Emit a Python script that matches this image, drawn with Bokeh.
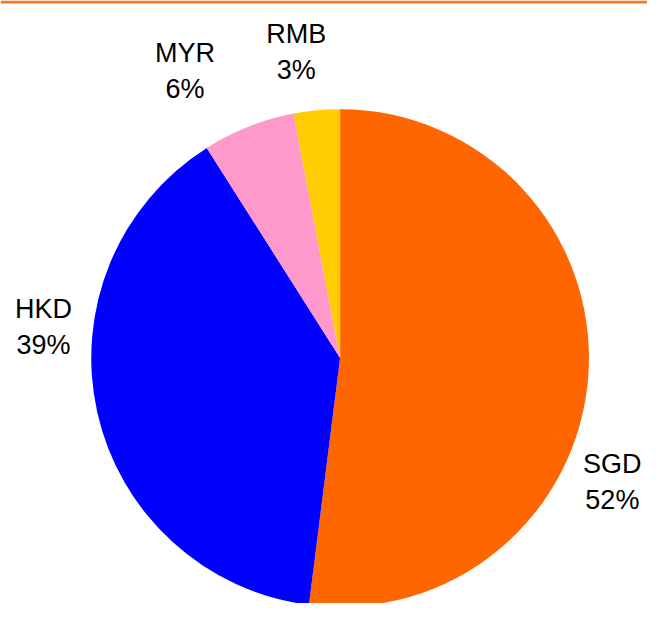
import math
from bokeh.plotting import figure
from bokeh.models import ColumnDataSource, Range1d
from bokeh.core.properties import value
from bokeh.embed import file_html
from bokeh.resources import INLINE

# ---- data ----
currencies = ["SGD", "HKD", "MYR", "RMB"]
shares = [52, 39, 6, 3]
colors = ["#FF6600", "#0000FF", "#FF99CC", "#FFCC00"]

# ---- layout (reference-page pixels, y up) ----
W, H = 647, 603          # fits the 663x619 window with its 8px margin
PW, PH = 663, 619        # coordinate space of the reference picture
CX, CY, R = 348, 252, 255
# label anchor offsets (first-line baseline) relative to pie centre
label_dx = [279, -304, -159, -45]
label_dy = [-109, 50, 313, 333]
LINE_STEP = 37

total = float(sum(shares))
starts, ends = [], []
cum = 0.0
for s in shares:
    starts.append(math.pi / 2 - 2 * math.pi * cum / total)
    cum += s
    ends.append(math.pi / 2 - 2 * math.pi * cum / total)

src = ColumnDataSource(dict(start=starts, end=ends, color=colors, name=currencies))

p = figure(width=W, height=H, x_range=Range1d(0, PW), y_range=Range1d(0, PH),
           output_backend="svg", toolbar_location=None,
           x_axis_location=None, y_axis_location=None, min_border=0)
p.outline_line_color = None
p.grid.visible = False
p.background_fill_color = "white"
p.border_fill_color = "white"

# top accent line
p.segment(x0=[0], y0=[PH - 1.5], x1=[PW], y1=[PH - 1.5], line_color="#F47920", line_width=3)

p.wedge(x=CX, y=CY, radius=R, start_angle="start", end_angle="end",
        direction="clock", fill_color="color", line_color=None, source=src)

lx = [CX + d for d in label_dx]
ly1 = [CY + d for d in label_dy]
ly2 = [y - LINE_STEP for y in ly1]
pct = [f"{s}%" for s in shares]

lab = ColumnDataSource(dict(x=lx, y1=ly1, y2=ly2, name=currencies, pct=pct))
for ycol, tcol in (("y1", "name"), ("y2", "pct")):
    p.text(x="x", y=ycol, text=tcol, source=lab, text_align="center",
           text_baseline="alphabetic", text_font=value("Liberation Sans"),
           text_font_size="27px", text_color="black")

open("out.html", "w").write(file_html(p, INLINE))
